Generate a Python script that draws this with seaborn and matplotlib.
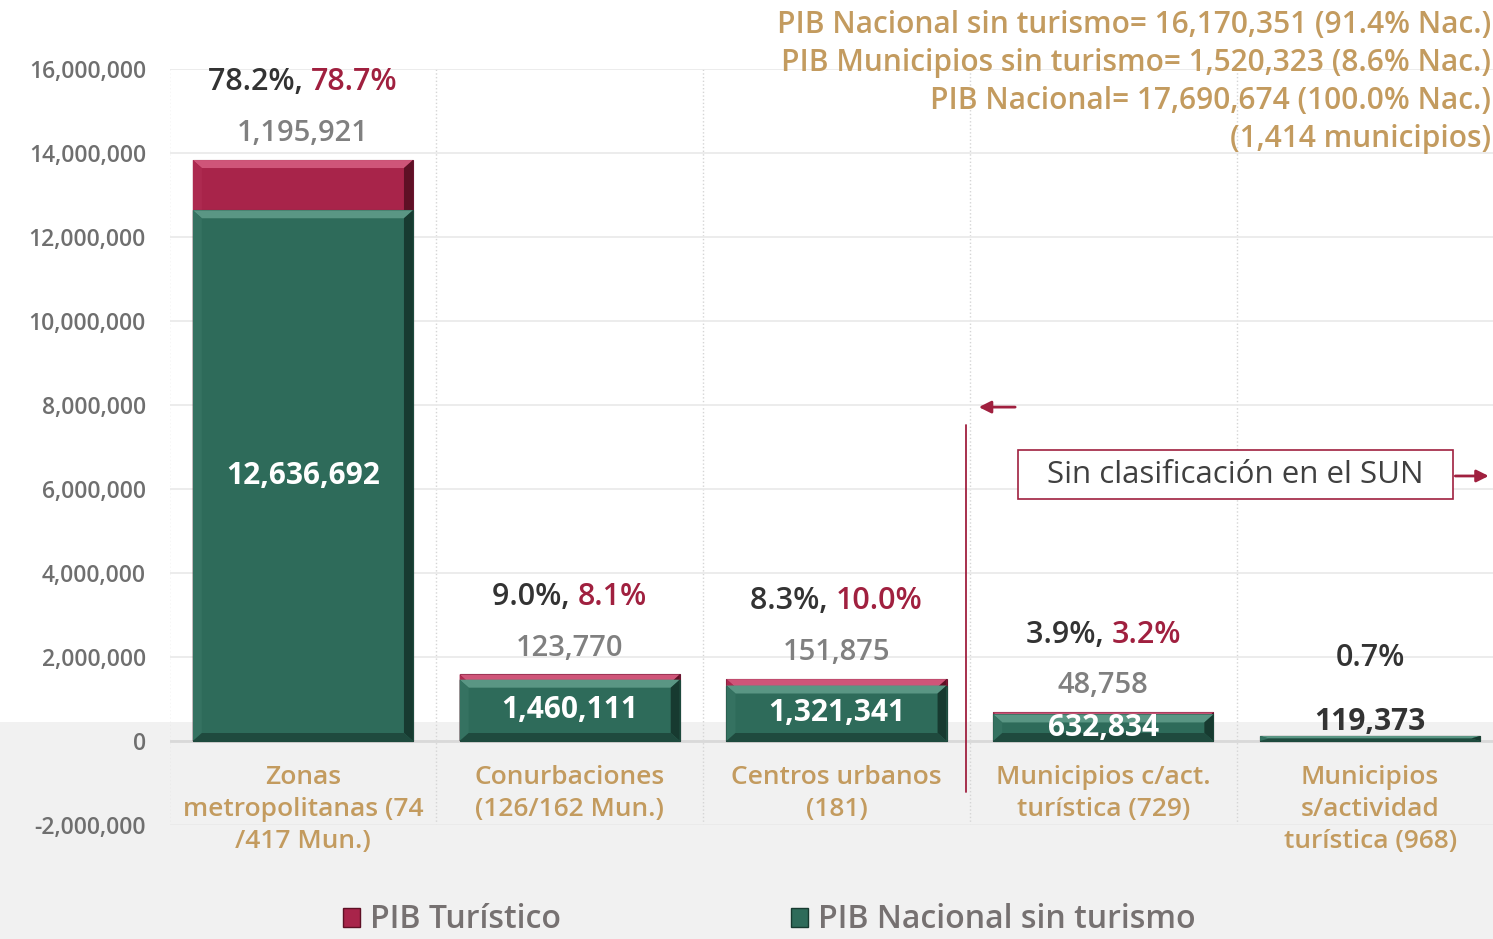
import pandas as pd
import matplotlib
matplotlib.use("Agg")
import matplotlib.pyplot as plt
import seaborn as sns
from matplotlib.patches import Rectangle, Patch, Polygon
from matplotlib.ticker import FuncFormatter
from matplotlib.offsetbox import TextArea, HPacker, AnnotationBbox

categorias = ["Zonas\nmetropolitanas (74\n/417 Mun.)", "Conurbaciones\n(126/162 Mun.)",
              "Centros urbanos\n(181)", "Municipios c/act.\nturística (729)",
              "Municipios\ns/actividad\nturística (968)"]
pib_sin_turismo = [12636692, 1460111, 1321341, 632834, 119373]
pib_turistico = [1195921, 123770, 151875, 48758, 0]
pct_sin = ["78.2%", "9.0%", "8.3%", "3.9%", "0.7%"]
pct_tur = ["78.7%", "8.1%", "10.0%", "3.2%", ""]
resumen = ["PIB Nacional sin turismo= 16,170,351 (91.4% Nac.)",
           "PIB Municipios sin turismo= 1,520,323 (8.6% Nac.)",
           "PIB Nacional= 17,690,674 (100.0% Nac.)",
           "(1,414 municipios)"]

VERDE = "#2E6B5A"
ROJO = "#A8244A"
GUINDA = "#A0203F"
DORADO = "#C39B5F"
OSCURO = "#333333"
GRIS = "#808080"

df = pd.DataFrame({"cat": categorias, "sin": pib_sin_turismo, "tur": pib_turistico})
df["total"] = df["sin"] + df["tur"]

sns.set_style("white")
plt.rcParams["font.family"] = ["Open Sans", "DejaVu Sans"]

fig = plt.figure(figsize=(14.93, 9.39), dpi=100)
fig.patch.set_facecolor("white")
fig.patches.append(Rectangle((0, 0), 1, (939 - 722) / 939, transform=fig.transFigure,
                             facecolor="#F1F1F1", edgecolor="none", zorder=-10))
ax = fig.add_axes([169.5 / 1493, 1 - 825 / 939, 1334 / 1493, 756 / 939])
ax.set_facecolor("none")

sns.barplot(data=df, x="cat", y="total", color=ROJO, saturation=1, width=0.825,
            edgecolor="#6a1530", linewidth=0.8, ax=ax, zorder=3)
sns.barplot(data=df, x="cat", y="sin", color=VERDE, saturation=1, width=0.825,
            edgecolor="#1d4a3d", linewidth=0.8, ax=ax, zorder=4)

ax.set_xlim(-0.5, 4.5)
ax.set_ylim(-2000000, 16000000)

# bisel de las barras (efecto 3D del original)
px_x = 1 / 266.8
px_y = 18000000 / 756
biseles = {VERDE: ("#5a9684", "#357261", "#173a30", "#1f4a3e"),
           ROJO: ("#cf5579", "#ad2a50", "#5e1025", "#7a1a35")}
for p in list(ax.patches):
    x0, y0 = p.get_x(), p.get_y()
    w, h = p.get_width(), p.get_height()
    if h <= 0:
        continue
    fc = VERDE if abs(p.get_facecolor()[1] - 0.42) < 0.05 else ROJO
    arriba, izq, der, abajo = biseles[fc]
    bx = 9 * px_x
    by = min(8 * px_y, h / 2)
    x1, y1 = x0 + w, y0 + h
    z = p.get_zorder() + 0.1
    ax.add_patch(Polygon([(x0, y1), (x1, y1), (x1 - bx, y1 - by), (x0 + bx, y1 - by)],
                         facecolor=arriba, edgecolor="none", zorder=z))
    ax.add_patch(Polygon([(x0, y0), (x0 + bx, y0 + by), (x0 + bx, y1 - by), (x0, y1)],
                         facecolor=izq, edgecolor="none", zorder=z))
    ax.add_patch(Polygon([(x1, y0), (x1, y1), (x1 - bx, y1 - by), (x1 - bx, y0 + by)],
                         facecolor=der, edgecolor="none", zorder=z))
    ax.add_patch(Polygon([(x0, y0), (x1, y0), (x1 - bx, y0 + by), (x0 + bx, y0 + by)],
                         facecolor=abajo, edgecolor="none", zorder=z))

ax.set_yticks(range(-2000000, 16000001, 2000000))
ax.yaxis.set_major_formatter(FuncFormatter(lambda v, p: f"{v:,.0f}"))
ax.tick_params(axis="y", length=0, pad=17, labelsize=16.5, labelcolor="#6F6F6F")
for t in ax.get_yticklabels():
    t.set_fontweight("semibold")
ax.tick_params(axis="x", length=0, labelbottom=False)
ax.set_xlabel("")
ax.set_ylabel("")
for s in ax.spines.values():
    s.set_visible(False)
ax.yaxis.grid(True, color="#EAEAEA", lw=1.3, zorder=0)
ax.set_xticks([0.5, 1.5, 2.5, 3.5], minor=True)
ax.xaxis.grid(True, which="minor", ls=":", color="#D5D5D5", lw=1, zorder=0)
ax.axvline(-0.5, ls=":", color="#D5D5D5", lw=1, zorder=0)
ax.axhline(0, color="#D9D9D9", lw=2, zorder=1)

for i, row in df.iterrows():
    x = i
    if row["tur"] > 0:
        ax.text(x, row["sin"] / 2, f"{row['sin']:,}", ha="center", va="center",
                color="white", fontsize=21.5, fontweight="bold", zorder=6)
        ax.annotate(f"{row['tur']:,}", (x, row["total"]), xytext=(0, 19),
                    textcoords="offset points", ha="center", va="center",
                    color=GRIS, fontsize=21, fontweight="semibold")
        caja = HPacker(children=[
            TextArea(pct_sin[i] + ", ", textprops=dict(color=OSCURO, fontsize=22, fontweight="semibold")),
            TextArea(pct_tur[i], textprops=dict(color=GUINDA, fontsize=22, fontweight="semibold"))],
            align="baseline", pad=0, sep=0)
    else:
        ax.annotate(f"{row['sin']:,}", (x, row["total"]), xytext=(0, 10),
                    textcoords="offset points", ha="center", va="center",
                    color=OSCURO, fontsize=21.5, fontweight="bold")
        caja = HPacker(children=[
            TextArea(pct_sin[i], textprops=dict(color=OSCURO, fontsize=22, fontweight="semibold"))],
            align="baseline", pad=0, sep=0)
    ab = AnnotationBbox(caja, (x, row["total"]), xybox=(0, 56), boxcoords="offset points",
                        frameon=False, box_alignment=(0.5, 0.5))
    ax.add_artist(ab)
    ax.text(x, -570000, row["cat"], ha="center", va="top", color=DORADO,
            fontsize=19, fontweight="semibold", linespacing=1.36)

# separador SUN
ax.plot([2.487, 2.487], [7520000, -1210000], color=GUINDA, lw=1.3, clip_on=False, zorder=5)
ax.annotate("", xy=(2.523, 7950000), xytext=(2.680, 7950000),
            arrowprops=dict(arrowstyle="-|>", color=GUINDA, lw=2, mutation_scale=18))
ax.add_patch(Rectangle((2.680, 5762000), 1.629, 1167000, facecolor="white",
                       edgecolor=GUINDA, lw=1.2, zorder=5))
ax.text(3.494, 6345000, "Sin clasificación en el SUN", ha="center", va="center",
        color="#404040", fontsize=22.5, fontweight="medium", zorder=6)
ax.annotate("", xy=(4.455, 6310000), xytext=(4.309, 6310000),
            arrowprops=dict(arrowstyle="-|>", color=GUINDA, lw=2, mutation_scale=18),
            annotation_clip=False)

for k, linea in enumerate(resumen):
    fig.text(1491 / 1493, 1 - (25 + 38 * k) / 939, linea, ha="right", va="center",
             color=DORADO, fontsize=21.5, fontweight="semibold")

handles = [Patch(facecolor=ROJO, edgecolor="#5e1025"), Patch(facecolor=VERDE, edgecolor="#173a30")]
leg = fig.legend(handles, ["PIB Turístico", "PIB Nacional sin turismo"], loc="center",
                 bbox_to_anchor=(769 / 1493, 1 - 920 / 939), ncol=2, frameon=False,
                 handlelength=0.55, handleheight=0.55, handletextpad=0.3,
                 columnspacing=7.2, prop=dict(size=23, weight="semibold"))
for t in leg.get_texts():
    t.set_color("#767171")

fig.savefig("out.png", dpi=100, facecolor="white")
